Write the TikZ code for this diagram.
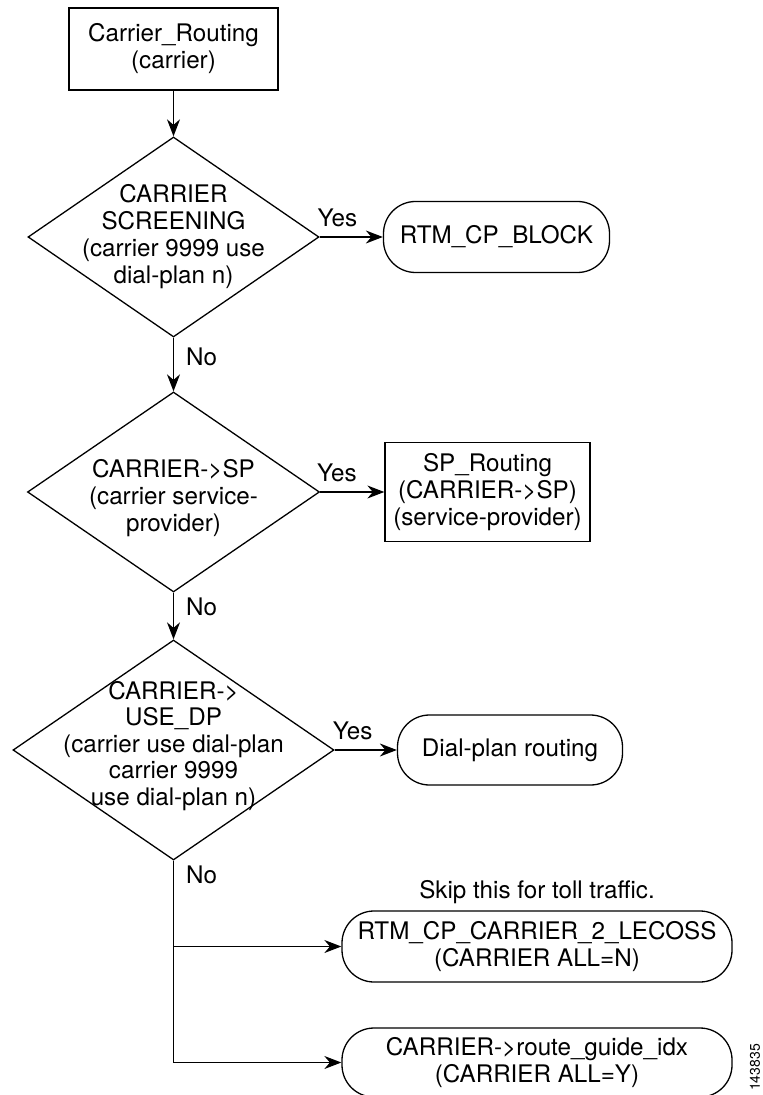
\documentclass[tikz,border=0pt]{standalone}
\usepackage{fontspec}
\setmainfont{TeX Gyre Heros}
\usetikzlibrary{arrows.meta,positioning,shapes.geometric}

\begin{document}
\begin{tikzpicture}[>={Stealth[length=8.5pt,width=6.5pt]}, line width=0.65pt,
  font=\fontsize{12.1pt}{13.5pt}\selectfont,
  box/.style={draw, align=center, inner sep=0pt},
  term/.style={draw, rounded corners=16pt, align=center, inner sep=0pt, minimum height=35.5pt},
  decision/.style={draw, diamond, inner sep=0pt},
  dtext/.style={align=center, inner sep=0pt},
  yes/.style={above, pos=0.28, inner sep=4.5pt},
  no/.style={right, inner sep=0pt, xshift=6pt}]
\useasboundingbox (0,0) rectangle (381.5pt,-547.5pt);

\node[box, minimum width=104.5pt, minimum height=41pt] (start) at (86.75pt,-24.5pt) {Carrier\_Routing\\(carrier)};
\node[decision, below of=start, node distance=94pt, minimum width=145.5pt, minimum height=100pt,
  label={[dtext]center:{CARRIER\\SCREENING\\(carrier 9999 use\\dial-plan n)}}] (screen) {};
\node[term, right of=screen, node distance=161.5pt, minimum width=113pt] (block) {RTM\_CP\_BLOCK};

\node[decision, below of=screen, node distance=127.5pt, minimum width=146pt, minimum height=100pt,
  label={[dtext, yshift=-3pt]center:{CARRIER->SP\\(carrier service-\\provider)}}] (tosp) {};
\node[box, right of=tosp, node distance=157pt, minimum width=102.5pt, minimum height=49.5pt] (sprt)
  {SP\_Routing\\(CARRIER->SP)\\(service-provider)};

\node[decision, below of=tosp, node distance=129pt, minimum width=160.5pt, minimum height=110pt,
  label={[dtext, font=\fontsize{12.1pt}{13.25pt}\selectfont, yshift=2pt]center:{CARRIER->\\USE\_DP\\(carrier use dial-plan\\carrier 9999\\use dial-plan n)}}] (usedp) {};
\node[term, right of=usedp, node distance=168.25pt, minimum width=112.5pt, minimum height=35pt] (dial) {Dial-plan routing};

\node[term, below of=dial, node distance=98.25pt, xshift=13.5pt, minimum width=195pt] (lecoss)
  {RTM\_CP\_CARRIER\_2\_LECOSS\\(CARRIER ALL=N)};
\node[above of=lecoss, node distance=27pt] (skip) {Skip this for toll traffic.};
\node[term, below of=lecoss, node distance=58pt, minimum width=195pt, minimum height=34.5pt] (guide)
  {CARRIER->route\_guide\_idx\\(CARRIER ALL=Y)};
\node[right of=guide, node distance=109pt, yshift=-2.5pt, rotate=90, inner sep=0pt,
  font=\fontsize{7pt}{8pt}\selectfont] (figid) {143835};

\draw[->] (start) -- (screen);
\draw[->] (screen) -- node[yes] {Yes} (block);
\draw[->] (screen) -- node[no, pos=0.35] {No} (tosp);
\draw[->] (tosp) -- node[yes, pos=0.26] {Yes} (sprt);
\draw[->] (tosp) -- node[no, pos=0.3] {No} (usedp);
\draw[->] (usedp) -- node[yes, pos=0.29] {Yes} (dial);
\draw[->] (usedp) |- node[no, pos=0.083] {No} (lecoss);
\draw[->] (usedp) |- (guide);
\end{tikzpicture}
\end{document}
